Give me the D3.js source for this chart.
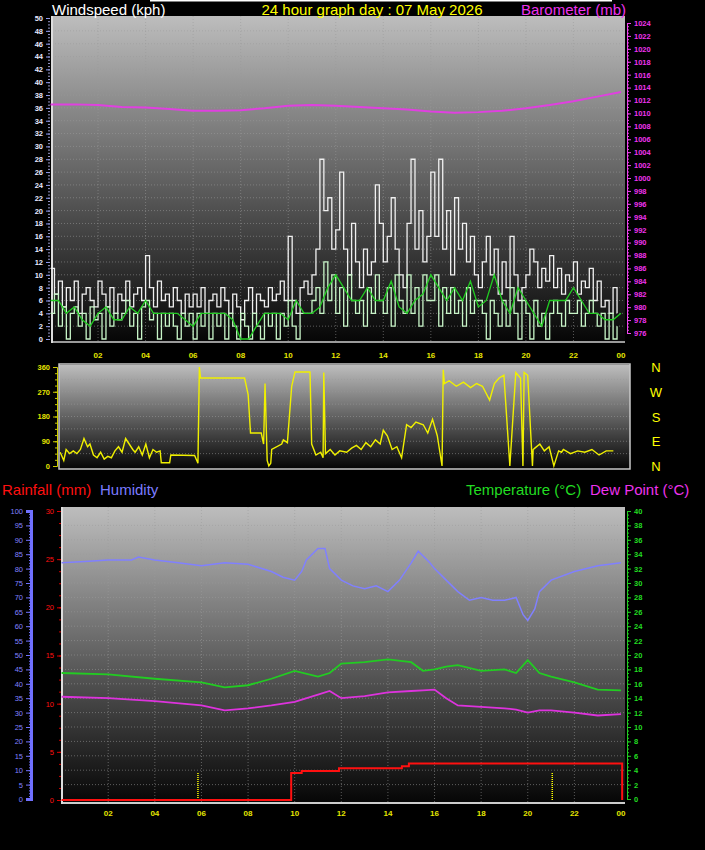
<!DOCTYPE html>
<html><head><meta charset="utf-8">
<script src="https://cdn.jsdelivr.net/npm/d3@7"></script>
<style>body{margin:0;background:#000}svg{display:block}</style>
</head><body>
<script>
// ---------- DATA ----------
const hourTicks = [2,4,6,8,10,12,14,16,18,20,22,24];
const hourLabels = ["02","04","06","08","10","12","14","16","18","20","22","00"];
// wind every 10 minutes (144 samples), kph
const windGust = [11,7,9,5,8,6, 9,4,7,8,6,5, 9,7,5,8,4,7, 6,9,5,7,8,6, 13,8,5,9,6,7, 5,8,6,4,7,5,
 7,5,8,4,6,7, 5,8,6,4,7,5, 3,6,8,4,7,6, 5,8,6,7,9,6, 16,6,4,8,9,7, 10,14,28,20,22,14,
 17,26,14,10,18,12, 8,14,10,12,24,18, 12,16,22,14,10,8, 18,28,14,20,12,16, 26,16,28,14,20,10, 22,14,18,12,16,10,
 8,12,16,10,14,7, 12,8,16,10,6,8, 10,14,12,8,11,9, 13,8,11,7,10,9, 12,7,9,8,11,6, 9,5,6,4,8,4];
const windAvg = [4,7,2,5,0,4, 5,2,4,0,5,3, 4,0,5,2,4,3, 4,6,2,4,0,5, 6,3,4,0,4,2, 4,2,0,4,2,4,
 0,4,2,4,0,4, 2,4,0,4,2,0, 4,2,0,4,2,0, 4,2,4,0,4,2, 6,2,0,4,4,4, 6,8,4,12,6,10,
 4,8,2,10,6,4, 6,2,8,4,10,6, 4,8,2,10,6,4, 10,4,8,2,10,6, 6,10,2,8,4,8, 4,6,2,8,4,6,
 6,4,0,6,4,2, 6,2,8,4,0,6, 4,0,6,2,4,0, 4,6,4,2,6,4, 4,6,2,4,6,4, 2,4,0,4,0,2];
// smoothed average every 20 minutes (73 samples)
const windTrend = [6,6,4, 5,3,2, 4,5,3, 3,5,4, 6,4,4, 4,4,3, 2,4,4, 4,4,3, 0,0,2, 4,4,4, 3,6,4, 4,5,8,
 10,8,6, 6,8,6, 6,9,5, 4,6,7, 10,8,6, 8,6,9, 5,6,10, 6,4,8, 6,4,2, 6,6,6, 8,6,4, 4,3,3, 4];
// barometer hourly, mb
const baro = [1011.4,1011.4,1011.3,1011.0,1010.9,1010.7,1010.4,1010.4,1010.5,1010.8,1011.2,1011.3,1011.2,
 1011.0,1010.8,1010.6,1010.3,1010.1,1010.2,1010.4,1010.8,1011.3,1011.9,1012.6,1013.3];
// wind direction
const dirHours = [0.05,0.2,0.3,0.45,0.6,0.75,0.9,1.05,1.2,1.3,1.45,1.6,1.75,1.9,2.05,2.2,2.35,2.5,2.65,2.8,2.95,3.1,3.2,3.35,3.5,3.65,3.8,3.95,4.1,4.25,
 4.3,4.65,4.7,5.7,5.84,5.9,5.95,7.8,7.95,8.05,8.5,8.6,8.66,8.75,8.82,8.9,8.94,9.36,9.43,9.6,9.78,9.92,10.55,10.62,10.8,11.0,11.1,11.13,11.2,11.4,11.6,11.8,12.09,
 12.3,12.5,12.7,12.9,13.1,13.3,13.5,13.63,13.8,14.0,14.2,14.4,14.61,14.8,15.0,15.31,15.5,15.7,15.9,16.1,16.15,16.2,16.4,16.7,17.0,17.3,17.55,17.8,18.1,18.3,18.5,18.7,18.95,19.2,19.4,19.5,19.55,19.7,19.9,19.93,20.0,20.21,20.4,20.6,20.8,21.0,21.12,21.2,21.5,21.8,22.1,22.4,22.7,23.0,23.3,23.6,23.85];
const dirValues = [50,20,60,45,55,45,60,100,70,80,40,30,50,25,35,30,55,70,50,100,80,60,50,70,40,80,30,60,50,55,
 12,12,40,38,10,360,320,320,260,120,120,80,300,20,0,10,60,80,95,85,290,342,342,80,40,50,30,340,45,60,40,55,50,
 65,75,60,85,70,95,80,130,110,60,70,30,150,140,160,150,120,170,110,0,350,300,310,290,305,285,300,290,240,300,320,330,0,340,320,0,340,330,0,60,65,80,55,70,0,55,50,60,45,55,50,60,40,55,55];
// bottom panel hourly-ish
const humHours = [0,1,2,3,3.3,4,5,6,7,8,9,9.5,10,10.3,10.5,11,11.3,11.5,12,12.5,13,13.5,14,14.5,15,15.3,15.8,16,16.5,17,17.5,18,18.5,19,19.5,19.8,20,20.3,20.5,21,22,23,24];
const humidity = [82,82.5,83,83,84,83,82,81,82,81.5,79,77,76,79,83,87,87,80,76,74,73,74,72,76,82,86,82,80,76,72,69,70,69,69,70,64,62,66,72,76,79,81,82];
const tdHours = [0,2,4,6,7,8,9,10,11,11.5,12,13,14,15,15.5,16,16.5,17,18,19,19.5,20,20.5,21,22,23,24];
const temperature = [17.5,17.3,16.7,16.2,15.5,15.8,16.7,17.8,17,17.5,18.8,19,19.4,19,17.8,18,18.4,18.6,17.8,18,17.5,19.3,17.5,17,16.2,15.2,15.1];
const dewPoint = [14.2,14,13.6,13,12.3,12.6,13,13.5,14.5,15,14,14.3,14.8,15,15.1,15.2,14,13,12.8,12.6,12.4,12,12.3,12.3,12,11.6,11.8];
const rainHours = [0,9.85,10.3,11.9,14.6,14.9,24,24.05];
const rainfall = [0,2.8,3.0,3.3,3.5,3.8,3.8,0];
const sunMarks = [5.85,21.05];

// ---------- DRAW ----------
const W=705,H=850;
const svg=d3.select("body").append("svg").attr("width",W).attr("height",H).style("background","#000");
const defs=svg.append("defs");
const g=defs.append("linearGradient").attr("id","bg").attr("x1",0).attr("x2",0).attr("y1",0).attr("y2",1);
g.append("stop").attr("offset","0%").attr("stop-color","#bdbdbd");
g.append("stop").attr("offset","100%").attr("stop-color","#050505");
const F="Liberation Sans, Arial, sans-serif";

function panel(x0,x1,y0,y1){
  svg.append("rect").attr("x",x0).attr("y",y0).attr("width",x1-x0).attr("height",y1-y0).attr("fill","url(#bg)");
}
function hgrid(sc,vals,x0,x1){
  svg.append("g").selectAll("line").data(vals).join("line")
    .attr("x1",x0).attr("x2",x1).attr("y1",d=>sc(d)).attr("y2",d=>sc(d))
    .attr("stroke","#9a9a9a").attr("stroke-opacity",0.55).attr("stroke-dasharray","1,2");
}
function vgrid(sc,vals,y0,y1){
  svg.append("g").selectAll("line").data(vals).join("line")
    .attr("y1",y0).attr("y2",y1).attr("x1",d=>sc(d)).attr("x2",d=>sc(d))
    .attr("stroke","#9a9a9a").attr("stroke-opacity",0.55).attr("stroke-dasharray","1,2");
}
function xLabels(sc,y){
  svg.append("g").selectAll("text").data(hourTicks).join("text")
    .attr("x",d=>sc(d)).attr("y",y).attr("text-anchor","middle").attr("fill","#e6e600")
    .attr("font-family",F).attr("font-size",8).attr("font-weight","bold").text((d,i)=>hourLabels[i]);
}

// ===== Top panel =====
const tx=d3.scaleLinear([0,24],[50.5,621]);
const wy=d3.scaleLinear([0,50],[339,18]);
const by=d3.scaleLinear([976,1024],[333,23]);
panel(52,625,16,343);
hgrid(wy,d3.range(2,50,2),52,625);
vgrid(tx,hourTicks.slice(0,11),16,343);
svg.append("line").attr("x1",52).attr("x2",625).attr("y1",342).attr("y2",342).attr("stroke","#ccc").attr("stroke-width",1.5);
svg.append("line").attr("x1",52).attr("x2",52).attr("y1",16).attr("y2",343).attr("stroke","#ddd").attr("stroke-width",2);
const tIdx10=windGust.map((d,i)=>i/6);
const step=d3.line().curve(d3.curveStepAfter);
svg.append("path").attr("d",step(windGust.map((d,i)=>[tx(tIdx10[i]),wy(d)]))).attr("fill","none").attr("stroke","#f0f0f0").attr("stroke-width",1.3);
svg.append("path").attr("d",step(windAvg.map((d,i)=>[tx(tIdx10[i]),wy(d)]))).attr("fill","none").attr("stroke","#c8f5c8").attr("stroke-width",1.3);
svg.append("path").attr("d",d3.line()(windTrend.map((d,i)=>[tx(i/3),wy(d)]))).attr("fill","none").attr("stroke","#22cc22").attr("stroke-width",1.3);
svg.append("path").attr("d",d3.line()(baro.map((d,i)=>[tx(i),by(d)]))).attr("fill","none").attr("stroke","#e040e0").attr("stroke-width",2);
const la=svg.append("g").attr("transform","translate(50,0)").call(d3.axisLeft(wy).tickValues(d3.range(0,51,2)).tickSize(4).tickFormat(d3.format("d")));
la.select(".domain").remove();
la.selectAll("line").attr("stroke","#8899ff");
la.selectAll("text").attr("fill","#e8e8ff").attr("font-size",7.5).attr("font-weight","bold").attr("font-family",F);
const lam=svg.append("g").attr("transform","translate(50,0)").call(d3.axisLeft(wy).tickValues(d3.range(0,50.1,0.5)).tickSize(2).tickFormat(""));
lam.select(".domain").remove(); lam.selectAll("line").attr("stroke","#9999cc");
const ra=svg.append("g").attr("transform","translate(627,0)").call(d3.axisRight(by).tickValues(d3.range(976,1025,2)).tickSize(4).tickFormat(d3.format("d")));
ra.select(".domain").attr("stroke","#ee44ee");
ra.selectAll("line").attr("stroke","#ee44ee");
ra.selectAll("text").attr("fill","#ee33ee").attr("font-size",7.5).attr("font-weight","bold").attr("font-family",F);
const ram=svg.append("g").attr("transform","translate(627,0)").call(d3.axisRight(by).tickValues(d3.range(976,1024.1,0.5)).tickSize(2).tickFormat(""));
ram.select(".domain").remove(); ram.selectAll("line").attr("stroke","#ee44ee");
xLabels(tx,358);
svg.append("line").attr("x1",150).attr("x2",612).attr("y1",0.5).attr("y2",0.5).attr("stroke","#fff").attr("stroke-width",2);
svg.append("text").attr("x",52).attr("y",15).attr("fill","#fff").attr("font-family",F).attr("font-size",15).text("Windspeed (kph)");
svg.append("text").attr("x",372).attr("y",15).attr("text-anchor","middle").attr("fill","#ffff00").attr("font-family",F).attr("font-size",15).text("24 hour graph day : 07 May 2026");
svg.append("text").attr("x",626).attr("y",15).attr("text-anchor","end").attr("fill","#ee33ee").attr("font-family",F).attr("font-size",15).text("Barometer (mb)");

// ===== Middle panel =====
const mx=d3.scaleLinear([0,24],[59,630]);
const my=d3.scaleLinear([0,360],[466,367]);
panel(59,630,365,469);
hgrid(my,[45,90,135,180,225,270,315],59,630);
svg.append("path").attr("d",d3.line()(dirHours.map((h,i)=>[mx(h),my(dirValues[i])]))).attr("fill","none").attr("stroke","#f0f000").attr("stroke-width",1.4);
svg.append("rect").attr("x",59).attr("y",364).attr("width",571).attr("height",105).attr("fill","none").attr("stroke","#c8c8c8").attr("stroke-width",1.5);
const da=svg.append("g").attr("transform","translate(57,0)").call(d3.axisLeft(my).tickValues([0,90,180,270,360]).tickSize(4));
da.select(".domain").attr("stroke","#cccc00");
da.selectAll("line").attr("stroke","#cccc00");
da.selectAll("text").attr("fill","#e6e600").attr("font-size",7.5).attr("font-weight","bold").attr("font-family",F);
const dam=svg.append("g").attr("transform","translate(57,0)").call(d3.axisLeft(my).tickValues(d3.range(0,361,22.5)).tickSize(2).tickFormat(""));
dam.select(".domain").remove(); dam.selectAll("line").attr("stroke","#cccc00");
const compass=["N","W","S","E","N"];
svg.append("g").selectAll("text").data(compass).join("text").attr("x",656).attr("y",(d,i)=>my(360-i*90)+5)
  .attr("text-anchor","middle").attr("fill","#ffff00").attr("font-family",F).attr("font-size",13).text(d=>d);

// ===== Bottom panel =====
const bx=d3.scaleLinear([0,24],[61.6,621]);
const hy=d3.scaleLinear([0,100],[799,511]);
const ry=d3.scaleLinear([0,30],[800,511]);
const ty=d3.scaleLinear([0,40],[799,511]);
panel(62,625,507,804);
hgrid(ty,d3.range(2,40,2),62,625);
vgrid(bx,hourTicks.slice(0,11),507,804);
svg.append("line").attr("x1",61).attr("x2",625).attr("y1",803).attr("y2",803).attr("stroke","#ccc").attr("stroke-width",2);
svg.append("line").attr("x1",62).attr("x2",62).attr("y1",507).attr("y2",804).attr("stroke","#ddd").attr("stroke-width",2);
svg.append("g").selectAll("line").data(sunMarks).join("line").attr("x1",d=>bx(d)).attr("x2",d=>bx(d)).attr("y1",773).attr("y2",800)
  .attr("stroke","#ffff00").attr("stroke-width",1.5).attr("stroke-dasharray","1,1");
svg.append("path").attr("d",d3.line()(humHours.map((h,i)=>[bx(h),hy(humidity[i])]))).attr("fill","none").attr("stroke","#8080ff").attr("stroke-width",1.5);
svg.append("path").attr("d",d3.line()(tdHours.map((h,i)=>[bx(h),ty(temperature[i])]))).attr("fill","none").attr("stroke","#22cc22").attr("stroke-width",1.8);
svg.append("path").attr("d",d3.line()(tdHours.map((h,i)=>[bx(h),ty(dewPoint[i])]))).attr("fill","none").attr("stroke","#dd33dd").attr("stroke-width",1.8);
svg.append("path").attr("d",d3.line().curve(d3.curveStepAfter)(rainHours.map((h,i)=>[bx(h),ry(rainfall[i])]))).attr("fill","none").attr("stroke","#ff1010").attr("stroke-width",2);
const ha=svg.append("g").attr("transform","translate(31,0)").call(d3.axisLeft(hy).tickValues(d3.range(0,101,5)).tickSize(5));
ha.select(".domain").attr("stroke","#7070ff").attr("stroke-width",3);
ha.selectAll("line").attr("stroke","#7070ff");
ha.selectAll("text").attr("fill","#8080ff").attr("font-size",7.5).attr("font-family",F);
const ham=svg.append("g").attr("transform","translate(31,0)").call(d3.axisLeft(hy).tickValues(d3.range(0,100.1,1)).tickSize(2).tickFormat(""));
ham.select(".domain").remove(); ham.selectAll("line").attr("stroke","#7070ff");
const rna=svg.append("g").attr("transform","translate(61,0)").call(d3.axisLeft(ry).tickValues(d3.range(0,31,5)).tickSize(4));
rna.select(".domain").remove();
rna.selectAll("line").attr("stroke","#dd0000");
rna.selectAll("text").attr("fill","#ff1010").attr("font-size",7.5).attr("font-family",F);
const rnm=svg.append("g").attr("transform","translate(61,0)").call(d3.axisLeft(ry).tickValues(d3.range(0,30.1,1.25)).tickSize(2).tickFormat(""));
rnm.select(".domain").remove(); rnm.selectAll("line").attr("stroke","#cc0000");
const ta=svg.append("g").attr("transform","translate(627,0)").call(d3.axisRight(ty).tickValues(d3.range(0,41,2)).tickSize(4));
ta.select(".domain").attr("stroke","#22cc22");
ta.selectAll("line").attr("stroke","#22cc22");
ta.selectAll("text").attr("fill","#22dd22").attr("font-size",7.5).attr("font-weight","bold").attr("font-family",F);
const tam=svg.append("g").attr("transform","translate(627,0)").call(d3.axisRight(ty).tickValues(d3.range(0,40.1,0.5)).tickSize(2).tickFormat(""));
tam.select(".domain").remove(); tam.selectAll("line").attr("stroke","#22cc22");
xLabels(bx,816);
svg.append("text").attr("x",2).attr("y",495).attr("fill","#ff1010").attr("font-family",F).attr("font-size",15).text("Rainfall (mm)");
svg.append("text").attr("x",100).attr("y",495).attr("fill","#7b7bff").attr("font-family",F).attr("font-size",15).text("Humidity");
svg.append("text").attr("x",466).attr("y",495).attr("fill","#22dd22").attr("font-family",F).attr("font-size",15).text("Temperature (°C)");
svg.append("text").attr("x",590).attr("y",495).attr("fill","#ee33ee").attr("font-family",F).attr("font-size",15).text("Dew Point (°C)");
</script>
</body></html>
